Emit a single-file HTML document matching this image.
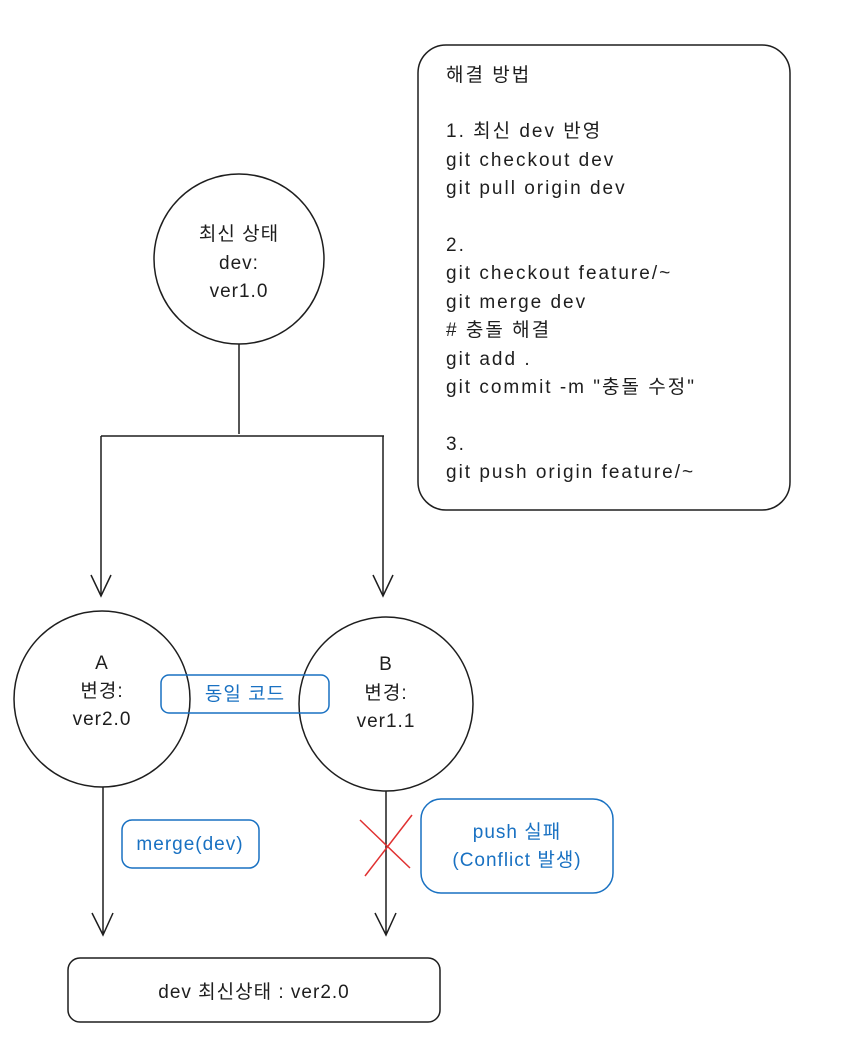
<!DOCTYPE html>
<html><head><meta charset="utf-8"><style>
html,body{margin:0;padding:0;background:#fff;}
svg{display:block}
text{font-family:"Liberation Sans","Noto Sans CJK KR",sans-serif;font-size:19px;fill:#1e1e1e;letter-spacing:1px}
.b{fill:#1971c2}
.r text{letter-spacing:2px}
</style></head><body>
<svg width="858" height="1048" viewBox="0 0 858 1048" xmlns="http://www.w3.org/2000/svg">
<g fill="none" stroke="#1e1e1e" stroke-width="1.5">
<circle cx="239" cy="259" r="85"/>
<circle cx="102" cy="699" r="88"/>
<circle cx="386" cy="704" r="87"/>
<path d="M239 344 V434 M101 436 H384 M101 436 V596 M383 436 V596"/>
<path d="M91 575 L101 596 L111 575 M373 575 L383 596 L393 575"/>
<path d="M103 787 V935 M92 913 L103 935 L113 913"/>
<path d="M386 791 V935 M375 913 L386 935 L396 913"/>
<rect x="68" y="958" width="372" height="64" rx="12"/>
<rect x="418" y="45" width="372" height="465" rx="28"/>
</g>
<g fill="none" stroke="#1971c2" stroke-width="1.5">
<rect x="161" y="675" width="168" height="38" rx="8"/>
<rect x="122" y="820" width="137" height="48" rx="10"/>
<rect x="421" y="799" width="192" height="94" rx="20"/>
</g>
<path d="M360 820 L410 868 M412 815 L365 876" stroke="#e03131" stroke-width="1.5" fill="none"/>
<g text-anchor="middle">
<text x="239" y="240">최신 상태</text>
<text x="239" y="269">dev:</text>
<text x="239" y="297">ver1.0</text>
<text x="102" y="669">A</text>
<text x="102" y="697">변경:</text>
<text x="102" y="725">ver2.0</text>
<text x="386" y="670">B</text>
<text x="386" y="699">변경:</text>
<text x="386" y="727">ver1.1</text>
<text x="245" y="700" class="b">동일 코드</text>
<text x="190" y="850" class="b">merge(dev)</text>
<text x="517" y="838" class="b">push 실패</text>
<text x="517" y="866" class="b">(Conflict 발생)</text>
<text x="254" y="998">dev 최신상태 : ver2.0</text>
</g>
<g class="r">
<text x="446" y="81">해결 방법</text>
<text x="446" y="137">1. 최신 dev 반영</text>
<text x="446" y="166">git checkout dev</text>
<text x="446" y="194">git pull origin dev</text>
<text x="446" y="251">2.</text>
<text x="446" y="279">git checkout feature/~</text>
<text x="446" y="308">git merge dev</text>
<text x="446" y="336"># 충돌 해결</text>
<text x="446" y="365">git add .</text>
<text x="446" y="393">git commit -m "충돌 수정"</text>
<text x="446" y="450">3.</text>
<text x="446" y="478">git push origin feature/~</text>
</g>
</svg>
</body></html>
